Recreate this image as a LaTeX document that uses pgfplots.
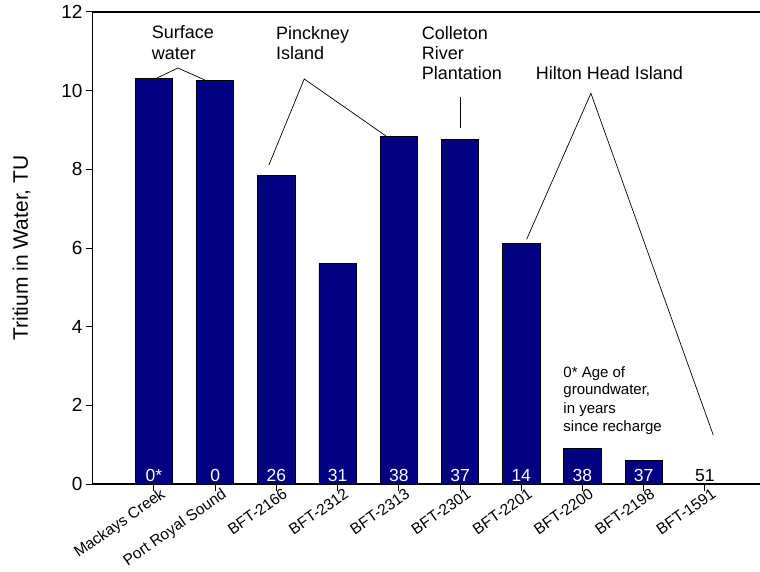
\documentclass[border=0pt]{standalone}
\usepackage{pgfplots}
\usepackage{pgfplotstable}
\pgfplotsset{compat=1.18}
\usepackage{fontspec}
\setmainfont{Liberation Sans}
\definecolor{barblue}{RGB}{0,0,128}

\pgfplotstableread{
x y
0 10.32
1 10.27
2 7.84
3 5.61
4 8.83
5 8.76
6 6.11
7 0.91
8 0.59
9 0
}\tritium

\pgfplotstableread{
x ly lab
0 0.076 0*
1 0.076 0
2 0.076 26
3 0.076 31
4 0.076 38
5 0.076 37
6 0.076 14
7 0.076 38
8 0.076 37
}\agesin

\pgfplotstableread{
x ly lab
9 0.076 51
}\agesout

\begin{document}
\begin{tikzpicture}[font=\fontsize{18}{20.5}\selectfont]
\begin{axis}[
  at={(0pt,0pt)}, anchor=south west,
  scale only axis, width=667.3pt, height=472pt,
  xmin=-1, xmax=9.9, ymin=0, ymax=12,
  axis x line*=bottom, axis y line*=left,
  axis line style={black, line width=1.2pt},
  clip=false,
  ytick={0,2,4,6,8,10,12},
  xtick={0,1,2,3,4,5,6,7,8,9},
  xticklabels={Mackays Creek, Port Royal Sound, BFT-2166, BFT-2312, BFT-2313, BFT-2301, BFT-2201, BFT-2200, BFT-2198, BFT-1591},
  tick align=outside, major tick length=6.7pt,
  tick style={black, line width=1pt},
  /pgf/number format/assume math mode=true,
  yticklabel style={font=\fontsize{19}{22}\selectfont},
  xticklabel style={xshift=6pt, yshift=5pt, font=\fontsize{15.5}{18}\selectfont, rotate=35, anchor=north east, inner sep=1pt},
  ylabel={Tritium in Water, TU},
  ylabel style={font=\fontsize{21}{24}\selectfont, at={(axis description cs:-0.097,0.5)}, anchor=base},
]
\addplot[ybar, bar width=0.61, fill=barblue, draw=black, line width=0.8pt] table[x=x, y=y] {\tritium};
\addplot[draw=none, mark=none, nodes near coords, point meta=explicit symbolic,
  nodes near coords style={anchor=base, text=white, inner sep=0pt, font=\fontsize{17.5}{20}\selectfont}]
  table[x=x, y=ly, meta=lab] {\agesin};
\addplot[draw=none, mark=none, nodes near coords, point meta=explicit symbolic,
  nodes near coords style={anchor=base, text=black, inner sep=0pt, font=\fontsize{17.5}{20}\selectfont}]
  table[x=x, y=ly, meta=lab] {\agesout};

\draw[line width=1.2pt] (rel axis cs:0,1) -- (rel axis cs:1,1);

% Surface water
\node[anchor=base west, inner sep=0pt] at (axis cs:-0.038,11.314) {Surface};
\node[anchor=base west, inner sep=0pt] at (axis cs:-0.038,10.78) {water};
\draw[line width=0.7pt] (axis cs:0.049,10.32) -- (axis cs:0.392,10.576) -- (axis cs:0.833,10.27);
% Pinckney Island
\node[anchor=base west, inner sep=0pt] at (axis cs:1.993,11.289) {Pinckney};
\node[anchor=base west, inner sep=0pt] at (axis cs:1.993,10.78) {Island};
\draw[line width=0.7pt] (axis cs:1.878,8.11) -- (axis cs:2.455,10.297) -- (axis cs:3.79,8.848);
% Colleton River Plantation
\node[anchor=base west, inner sep=0pt] at (axis cs:4.373,11.301) {Colleton};
\node[anchor=base west, inner sep=0pt] at (axis cs:4.373,10.793) {River};
\node[anchor=base west, inner sep=0pt] at (axis cs:4.373,10.284) {Plantation};
\draw[line width=0.7pt] (axis cs:5.01,9.847) -- (axis cs:5.01,9.043);
% Hilton Head Island
\node[anchor=base west, inner sep=0pt] at (axis cs:6.235,10.284) {Hilton Head Island};
\draw[line width=0.7pt] (axis cs:6.088,6.221) -- (axis cs:7.138,9.933) -- (axis cs:9.136,1.246);
% Age note
\node[anchor=base west, inner sep=0pt, font=\fontsize{15}{18}\selectfont] at (axis cs:6.686,2.711) {0* Age of};
\node[anchor=base west, inner sep=0pt, font=\fontsize{15}{18}\selectfont] at (axis cs:6.686,2.263) {groundwater,};
\node[anchor=base west, inner sep=0pt, font=\fontsize{15}{18}\selectfont] at (axis cs:6.686,1.798) {in years};
\node[anchor=base west, inner sep=0pt, font=\fontsize{15}{18}\selectfont] at (axis cs:6.686,1.332) {since recharge};
\end{axis}
\pgfresetboundingbox
\path[use as bounding box] (-92.7pt,-87pt) rectangle (667.3pt,484pt);
\end{tikzpicture}
\end{document}
